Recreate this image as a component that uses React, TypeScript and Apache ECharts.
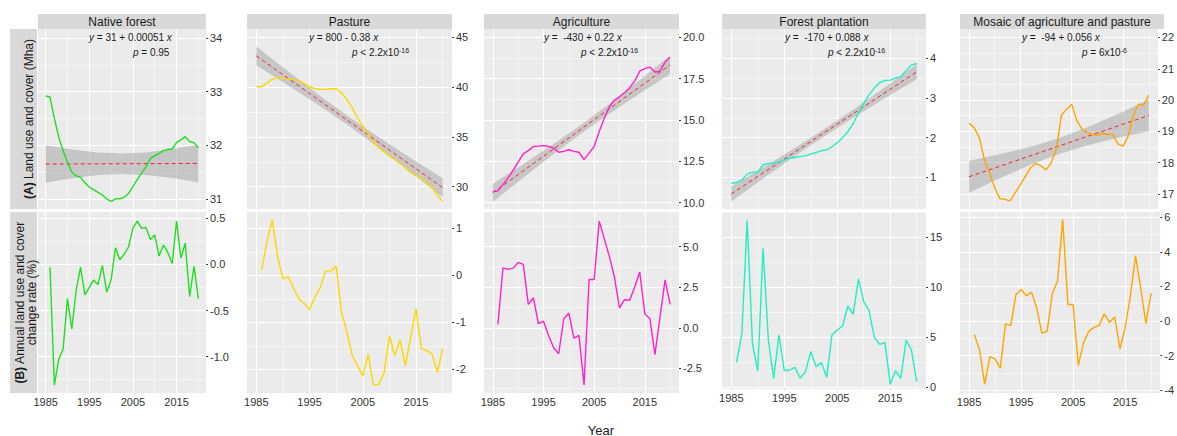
import React, { useEffect, useRef } from "react";
import * as echarts from "echarts";

// ---------- data ----------
const coverYears = [1985, 1986, 1987, 1988, 1989, 1990, 1991, 1992, 1993, 1994, 1995, 1996, 1997, 1998, 1999, 2000, 2001, 2002, 2003, 2004, 2005, 2006, 2007, 2008, 2009, 2010, 2011, 2012, 2013, 2014, 2015, 2016, 2017, 2018, 2019, 2020];
const rateYears = coverYears.slice(1);

const xTicks = [1985, 1995, 2005, 2015];
const xMinorGrid = [1990, 2000, 2010, 2020];
const fitYears = [1985, 2020];
const bandYears = [1985, 1991, 1997, 2002.5, 2008, 2014, 2020];

const nativeForestCover = [32.92, 32.9, 32.5, 32.15, 31.9, 31.68, 31.5, 31.43, 31.4, 31.3, 31.22, 31.17, 31.12, 31.07, 31.0, 30.95, 31.0, 31.0, 31.03, 31.1, 31.23, 31.36, 31.48, 31.6, 31.75, 31.8, 31.85, 31.9, 31.92, 31.93, 32.05, 32.1, 32.16, 32.07, 32.05, 31.95];
const nativeForestRate = [-0.03, -1.31, -1.03, -0.92, -0.37, -0.7, -0.28, -0.03, -0.33, -0.25, -0.17, -0.22, -0.01, -0.3, -0.17, 0.18, 0.05, 0.11, 0.19, 0.39, 0.47, 0.39, 0.4, 0.27, 0.32, 0.09, 0.21, 0.13, 0.01, 0.47, 0.07, 0.23, -0.35, -0.02, -0.37];
const nativeForestFit = [31.65, 31.66];
const nativeForestBand = [0.35, 0.27, 0.21, 0.19, 0.21, 0.27, 0.35];
const nativeForestCoverTicks = [31, 32, 33, 34];
const nativeForestRateTicks = [-1.0, -0.5, 0.0, 0.5];

const pastureCover = [40.03, 40.03, 40.4, 40.8, 40.95, 40.9, 40.8, 40.77, 40.6, 40.37, 40.03, 39.83, 39.77, 39.77, 39.83, 39.83, 39.43, 38.76, 37.93, 36.92, 36.08, 35.25, 34.48, 33.9, 33.5, 33.07, 32.73, 32.33, 31.9, 31.4, 31.1, 30.87, 30.4, 29.93, 29.16, 28.5];
const pastureRate = [0.11, 0.72, 1.18, 0.39, -0.07, -0.02, -0.28, -0.5, -0.6, -0.73, -0.46, -0.26, 0.09, 0.09, 0.19, -0.78, -1.2, -1.7, -1.92, -2.14, -1.68, -2.33, -2.32, -2.07, -1.29, -1.7, -1.38, -1.92, -1.31, -0.71, -1.56, -1.6, -1.67, -2.07, -1.56];
const pastureFit = [43.13, 29.9];
const pastureBand = [0.95, 0.71, 0.52, 0.45, 0.52, 0.71, 0.95];
const pastureCoverTicks = [30, 35, 40, 45];
const pastureRateTicks = [-2, -1, 0, 1];

const agricultureCover = [10.67, 10.72, 11.1, 11.5, 11.95, 12.45, 12.95, 13.15, 13.4, 13.42, 13.45, 13.4, 13.3, 13.05, 13.1, 13.2, 13.1, 13.05, 12.6, 13.0, 13.4, 14.3, 15.1, 15.8, 16.2, 16.4, 16.65, 16.95, 17.35, 17.95, 18.1, 18.2, 17.9, 17.95, 18.5, 18.8];
const agricultureRate = [0.21, 3.7, 3.6, 3.68, 4.03, 3.91, 1.44, 1.85, 0.25, 0.41, -0.47, -1.23, -1.6, 0.56, 0.91, -0.64, -0.47, -3.52, 2.98, 2.98, 6.58, 5.5, 4.4, 3.13, 1.23, 1.73, 1.69, 2.51, 3.44, 0.86, 0.56, -1.65, 0.66, 2.96, 1.44];
const agricultureFit = [10.6, 18.33];
const agricultureBand = [0.55, 0.41, 0.3, 0.26, 0.3, 0.41, 0.55];
const agricultureCoverTicks = [10, 12.5, 15, 17.5, 20];
const agricultureRateTicks = [-2.5, 0, 2.5, 5];

const forestPlantationCover = [0.85, 0.87, 0.93, 1.08, 1.13, 1.13, 1.31, 1.35, 1.35, 1.39, 1.44, 1.48, 1.5, 1.52, 1.54, 1.59, 1.62, 1.67, 1.69, 1.77, 1.87, 2.0, 2.15, 2.35, 2.62, 2.87, 3.08, 3.25, 3.39, 3.44, 3.45, 3.5, 3.54, 3.69, 3.83, 3.87];
const forestPlantationRate = [2.5, 5.4, 16.67, 4.33, 1.63, 13.9, 4.73, 0.9, 5.23, 1.67, 1.73, 2.0, 0.9, 1.57, 3.57, 2.07, 2.47, 1.0, 5.23, 5.73, 6.13, 8.13, 7.3, 10.83, 8.57, 7.67, 5.0, 4.3, 4.47, 0.3, 1.67, 0.9, 4.73, 3.73, 0.57];
const forestPlantationFit = [0.58, 3.66];
const forestPlantationBand = [0.19, 0.14, 0.1, 0.09, 0.1, 0.14, 0.19];
const forestPlantationCoverTicks = [1, 2, 3, 4];
const forestPlantationRateTicks = [0, 5, 10, 15];

const mosaicCover = [19.26, 19.12, 18.8, 18.1, 17.68, 17.2, 16.85, 16.83, 16.78, 17.04, 17.3, 17.57, 17.84, 17.98, 17.9, 17.77, 18.0, 18.43, 19.52, 19.71, 19.87, 19.34, 19.07, 18.96, 18.9, 18.87, 18.94, 18.9, 18.9, 18.6, 18.53, 18.85, 19.52, 19.87, 19.84, 20.16];
const mosaicRate = [-0.79, -1.66, -3.66, -2.06, -2.2, -2.73, -0.17, -0.27, 1.52, 1.82, 1.47, 1.67, 0.75, -0.7, -0.6, 1.59, 2.3, 5.88, 0.95, 0.95, -2.57, -1.28, -0.6, -0.37, -0.25, 0.41, -0.08, 0.23, -1.61, -0.41, 1.43, 3.79, 1.91, -0.15, 1.62];
const mosaicFit = [17.55, 19.51];
const mosaicBand = [0.51, 0.38, 0.29, 0.25, 0.29, 0.38, 0.51];
const mosaicCoverTicks = [17, 18, 19, 20, 21, 22];
const mosaicRateTicks = [-4, -2, 0, 2, 4, 6];

const panelTitles = ["Native forest", "Pasture", "Agriculture", "Forest plantation", "Mosaic of agriculture and pasture"];
const equationTexts = [
  "{i|y} = 31 + 0.00051 {i|x}",
  "{i|y} = 800 - 0.38 {i|x}",
  "{i|y} =  -430 + 0.22 {i|x}",
  "{i|y} =  -170 + 0.088 {i|x}",
  "{i|y} =  -94 + 0.056 {i|x}",
];
const pValueTexts = [
  "{i|p} = 0.95",
  "{i|p} < 2.2x10{s|-16}",
  "{i|p} < 2.2x10{s|-16}",
  "{i|p} < 2.2x10{s|-16}",
  "{i|p} = 6x10{s|-6}",
];

// ---------- layout / style ----------
const FONT = "'Liberation Sans', Arial, Helvetica, sans-serif";
const TEXT = "#1A1A1A";
const AXIS_TXT = "#333333";
const X_RANGE = [1983.25, 2021.75];
const TOP_Y = 29;
const TOP_H = 180;
const BOT_Y = 212;

const panels = [
  { left: 38, width: 168, color: "#22DD22", cover: nativeForestCover, rate: nativeForestRate, fit: nativeForestFit, band: nativeForestBand, coverTicks: nativeForestCoverTicks, rateTicks: nativeForestRateTicks, coverRange: [30.81, 34.17], rateRange: [-1.394, 0.568], coverDec: 0, rateDec: 1, botH: 181, eqX: 89, pX: 133 },
  { left: 247, width: 205, color: "#FFD700", cover: pastureCover, rate: pastureRate, fit: pastureFit, band: pastureBand, coverTicks: pastureCoverTicks, rateTicks: pastureRateTicks, coverRange: [27.76, 45.83], rateRange: [-2.503, 1.347], coverDec: 0, rateDec: 0, botH: 181, eqX: 309, pX: 352 },
  { left: 484, width: 195, color: "#FF22CC", cover: agricultureCover, rate: agricultureRate, fit: agricultureFit, band: agricultureBand, coverTicks: agricultureCoverTicks, rateTicks: agricultureRateTicks, coverRange: [9.62, 20.5], rateRange: [-4.02, 7.14], coverDec: 1, rateDec: 1, botH: 181, eqX: 544, pX: 581 },
  { left: 722, width: 204, color: "#22EEC4", cover: forestPlantationCover, rate: forestPlantationRate, fit: forestPlantationFit, band: forestPlantationBand, coverTicks: forestPlantationCoverTicks, rateTicks: forestPlantationRateTicks, coverRange: [0.2, 4.74], rateRange: [-0.17, 17.53], coverDec: 0, rateDec: 0, botH: 177, eqX: 785, pX: 828 },
  { left: 960, width: 204, color: "#FFA500", cover: mosaicCover, rate: mosaicRate, fit: mosaicFit, band: mosaicBand, coverTicks: mosaicCoverTicks, rateTicks: mosaicRateTicks, coverRange: [16.52, 22.27], rateRange: [-4.17, 6.31], coverDec: 0, rateDec: 0, botH: 181, eqX: 1022, pX: 1082 },
];

function minorOf(ticks: number[], range: number[]) {
  const step = ticks[1] - ticks[0];
  const out: number[] = [];
  const cand = [ticks[0] - step / 2, ...ticks.map((t) => t + step / 2)];
  cand.forEach((v) => {
    if (v > range[0] && v < range[1]) out.push(v);
  });
  return out;
}

function gridLines(ticks: number[], range: number[]) {
  const major = { color: "#FFFFFF", width: 1.1, type: "solid" };
  const minor = { color: "#FFFFFF", width: 0.5, type: "solid" };
  const data: any[] = [];
  xTicks.forEach((v) => data.push({ xAxis: v, lineStyle: major }));
  xMinorGrid.forEach((v) => data.push({ xAxis: v, lineStyle: minor }));
  ticks.forEach((v) => data.push({ yAxis: v, lineStyle: major }));
  minorOf(ticks, range).forEach((v) => data.push({ yAxis: v, lineStyle: minor }));
  return {
    silent: true,
    symbol: ["none", "none"],
    label: { show: false },
    z: 1,
    animation: false,
    lineStyle: { color: "#FFFFFF", type: "solid" },
    emphasis: { disabled: true },
    data,
  };
}

function buildOption() {
  const grid: any[] = [];
  const xAxis: any[] = [];
  const yAxis: any[] = [];
  const series: any[] = [];
  const graphic: any[] = [];

  panels.forEach((p, i) => {
    const gTop = 2 * i;
    const gBot = 2 * i + 1;
    grid.push({ left: p.left, top: TOP_Y, width: p.width, height: TOP_H, show: true, backgroundColor: "#EBEBEB", borderWidth: 0 });
    grid.push({ left: p.left, top: BOT_Y, width: p.width, height: p.botH, show: true, backgroundColor: "#EBEBEB", borderWidth: 0 });

    const xBase = { type: "value", min: X_RANGE[0], max: X_RANGE[1], axisLine: { show: false }, splitLine: { show: false } };
    xAxis.push({ ...xBase, gridIndex: gTop, axisTick: { show: false }, axisLabel: { show: false } });
    xAxis.push({
      ...xBase,
      gridIndex: gBot,
      axisTick: { show: true, length: 2, customValues: xTicks, lineStyle: { color: AXIS_TXT } },
      axisLabel: { show: true, customValues: xTicks, margin: 3, fontSize: 11, color: AXIS_TXT, fontFamily: FONT, formatter: (v: number) => String(v) },
    });

    const yBase = (ticks: number[], range: number[], dec: number, gi: number) => ({
      type: "value",
      gridIndex: gi,
      position: "right",
      min: range[0],
      max: range[1],
      axisLine: { show: false },
      splitLine: { show: false },
      axisTick: { show: true, length: 2, customValues: ticks, lineStyle: { color: AXIS_TXT } },
      axisLabel: { show: true, customValues: ticks, margin: 4, fontSize: 11, color: AXIS_TXT, fontFamily: FONT, formatter: (v: number) => v.toFixed(dec) },
    });
    yAxis.push(yBase(p.coverTicks, p.coverRange, p.coverDec, gTop));
    yAxis.push(yBase(p.rateTicks, p.rateRange, p.rateDec, gBot));

    const fitAt = (yr: number) => p.fit[0] + ((p.fit[1] - p.fit[0]) * (yr - fitYears[0])) / (fitYears[1] - fitYears[0]);

    // confidence band
    series.push({
      type: "custom",
      xAxisIndex: gTop,
      yAxisIndex: gTop,
      silent: true,
      z: 3,
      data: [[2002.5, fitAt(2002.5)]],
      renderItem: (_params: any, api: any) => {
        const upper = bandYears.map((yr, k) => api.coord([yr, fitAt(yr) + p.band[k]]));
        const lower = bandYears.map((yr, k) => api.coord([yr, fitAt(yr) - p.band[k]])).reverse();
        return { type: "polygon", shape: { points: upper.concat(lower) }, style: { fill: "rgba(153,153,153,0.45)" } };
      },
    });
    // regression line
    series.push({
      type: "line",
      xAxisIndex: gTop,
      yAxisIndex: gTop,
      silent: true,
      z: 4,
      symbol: "none",
      data: fitYears.map((yr, k) => [yr, p.fit[k]]),
      lineStyle: { color: "#FF1E1E", width: 1, type: [4, 3] },
    });
    // cover line
    series.push({
      type: "line",
      xAxisIndex: gTop,
      yAxisIndex: gTop,
      silent: true,
      z: 5,
      symbol: "none",
      data: coverYears.map((yr, k) => [yr, p.cover[k]]),
      lineStyle: { color: p.color, width: 1.4 },
      markLine: gridLines(p.coverTicks, p.coverRange),
    });
    // rate line
    series.push({
      type: "line",
      xAxisIndex: gBot,
      yAxisIndex: gBot,
      silent: true,
      z: 5,
      symbol: "none",
      data: rateYears.map((yr, k) => [yr, p.rate[k]]),
      lineStyle: { color: p.color, width: 1.4 },
      markLine: gridLines(p.rateTicks, p.rateRange),
    });

    // strip
    graphic.push({ type: "rect", silent: true, z: 50, shape: { x: p.left, y: 14, width: p.width, height: 15 }, style: { fill: "#D9D9D9" } });
    graphic.push({
      type: "text",
      silent: true,
      z: 60,
      x: p.left + p.width / 2,
      y: 22,
      style: { text: panelTitles[i], fontSize: 12, fontFamily: FONT, fill: TEXT, align: "center", verticalAlign: "middle", textAlign: "center", textVerticalAlign: "middle" },
    });
    const rich = {
      i: { fontStyle: "italic", fontSize: 10, fontFamily: FONT, fill: TEXT },
      s: { fontSize: 7, fontFamily: FONT, fill: TEXT, verticalAlign: "top" },
    };
    graphic.push({
      type: "text",
      silent: true,
      z: 60,
      x: p.eqX,
      y: 37,
      style: { text: equationTexts[i], rich, fontSize: 10, fontFamily: FONT, fill: TEXT, align: "left", verticalAlign: "middle", textAlign: "left", textVerticalAlign: "middle" },
    });
    graphic.push({
      type: "text",
      silent: true,
      z: 60,
      x: p.pX,
      y: 52,
      style: { text: pValueTexts[i], rich, fontSize: 10, fontFamily: FONT, fill: TEXT, align: "left", verticalAlign: "middle", textAlign: "left", textVerticalAlign: "middle" },
    });
  });

  // row strips
  graphic.push({ type: "rect", silent: true, z: 50, shape: { x: 10, y: TOP_Y, width: 27, height: TOP_H }, style: { fill: "#D9D9D9" } });
  graphic.push({ type: "rect", silent: true, z: 50, shape: { x: 10, y: BOT_Y, width: 27, height: 181 }, style: { fill: "#D9D9D9" } });
  const richB = { b: { fontWeight: "bold", fontSize: 12, fontFamily: FONT, fill: TEXT } };
  graphic.push({
    type: "text",
    silent: true,
    z: 60,
    x: 29,
    y: TOP_Y + TOP_H / 2,
    rotation: Math.PI / 2,
    style: { text: "{b|(A)} Land use and cover (Mha)", rich: richB, fontSize: 12, fontFamily: FONT, fill: TEXT, align: "center", verticalAlign: "middle", textAlign: "center", textVerticalAlign: "middle" },
  });
  graphic.push({
    type: "text",
    silent: true,
    z: 60,
    x: 26,
    y: BOT_Y + 181 / 2,
    rotation: Math.PI / 2,
    style: { text: "{b|(B)} Annual land use and cover\nchange rate (%)", rich: richB, fontSize: 12, lineHeight: 12, fontFamily: FONT, fill: TEXT, align: "center", verticalAlign: "middle", textAlign: "center", textVerticalAlign: "middle" },
  });
  graphic.push({
    type: "text",
    silent: true,
    z: 60,
    x: 601,
    y: 430,
    style: { text: "Year", fontSize: 13, fontFamily: FONT, fill: TEXT, align: "center", verticalAlign: "middle", textAlign: "center", textVerticalAlign: "middle" },
  });

  return { animation: false, backgroundColor: "#FFFFFF", grid, xAxis, yAxis, series, graphic };
}

export default function App() {
  const ref = useRef<HTMLDivElement>(null);
  useEffect(() => {
    if (!ref.current) return;
    const chart = echarts.init(ref.current, undefined, { renderer: "svg" });
    chart.setOption(buildOption() as any);
    return () => chart.dispose();
  }, []);
  return <div ref={ref} style={{ position: "absolute", left: 0, top: 0, width: 1177, height: 436, background: "#fff" }} />;
}
